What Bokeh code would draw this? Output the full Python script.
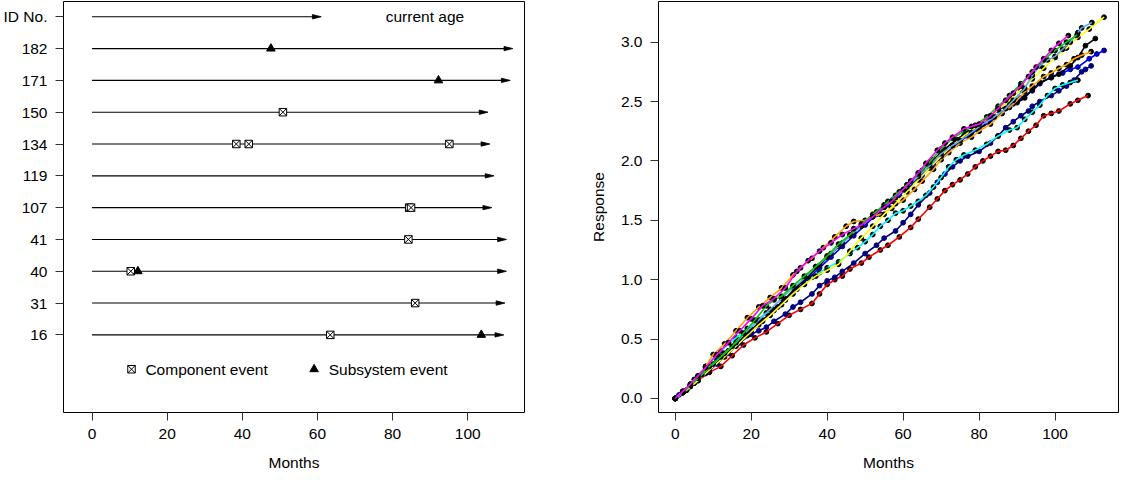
from bokeh.plotting import figure
from bokeh.layouts import row
from bokeh.models import FixedTicker, PrintfTickFormatter, Range1d
from bokeh.core.properties import value
from bokeh.embed import file_html
from bokeh.resources import INLINE

FONT = "Liberation Sans"
FS = "15.5px"

# ---------------- Left panel data ----------------
IDS = ["16", "31", "40", "41", "107", "119", "134", "150", "171", "182"]
CURRENT_AGE = [109.6, 109.9, 110.3, 110.3, 106.4, 107.0, 105.9, 105.4, 111.3, 112.0]
COMPONENT_EVENTS = [[63.4], [86.0], [10.3], [84.2], [84.4, 84.9], [], [38.4, 41.7, 95.1], [50.8], [], []]
SUBSYSTEM_EVENTS = [[103.6], [], [12.2], [], [], [], [], [], [92.2], [47.6]]
HEADER_LABEL = "ID No."
HEADER_ARROW_END = 61.0
HEADER_TEXT = "current age"
LEGEND_LABELS = ["Component event", "Subsystem event"]
X_TICKS = [0, 20, 40, 60, 80, 100]

# ---------------- Right panel data (month, response) ----------------
RED = [(0, 0.0), (2, 0.05), (4, 0.10), (6, 0.15), (9, 0.22), (12, 0.27), (15, 0.36), (18, 0.45),
       (21, 0.51), (24, 0.56), (27, 0.63), (30, 0.70), (33, 0.75), (36, 0.80), (38, 0.88), (40, 0.96),
       (42, 1.00), (44, 1.03), (46, 1.09), (49, 1.14), (51, 1.19), (54, 1.25), (56, 1.29), (59, 1.36),
       (62, 1.44), (64, 1.51), (67, 1.61), (69, 1.68), (71, 1.75), (73, 1.80), (75, 1.84), (77, 1.89),
       (79, 1.95), (81, 2.00), (83, 2.04), (85, 2.08), (87, 2.09), (89, 2.13), (91, 2.19), (93, 2.25),
       (95, 2.30), (97, 2.38), (99, 2.40), (101, 2.42), (104, 2.48), (106, 2.51), (108.7, 2.55)]
NAVY = [(0, 0.0), (1, 0.03), (2, 0.05), (3, 0.07), (5, 0.13), (8, 0.24), (11, 0.33), (14, 0.40),
        (17, 0.47), (20, 0.54), (22, 0.57), (24, 0.60), (26, 0.65), (29, 0.71), (31, 0.77), (33, 0.81),
        (36, 0.88), (38, 0.95), (40, 0.99), (42, 1.02), (44, 1.07), (47, 1.14), (50, 1.22), (53, 1.29),
        (55, 1.35), (58, 1.41), (60, 1.48), (62, 1.55), (64, 1.63), (67, 1.73), (69, 1.82), (71, 1.89),
        (73, 1.95), (75, 2.00), (77, 2.04), (80, 2.08), (83, 2.15), (85, 2.21), (87, 2.28), (89, 2.33),
        (91, 2.38), (93, 2.42), (94, 2.46), (96, 2.50), (99, 2.55), (101, 2.59), (103, 2.63), (105, 2.68),
        (107, 2.75), (108, 2.77), (109.5, 2.80)]
CYAN = [(0, 0.0), (2, 0.06), (5, 0.16), (8, 0.27), (12, 0.40), (16, 0.51), (19, 0.59), (21, 0.65),
        (24, 0.72), (27, 0.77), (29, 0.83), (32, 0.92), (34, 0.97), (36, 1.02), (38, 1.06), (40, 1.10),
        (43, 1.15), (46, 1.22), (48, 1.27), (50, 1.32), (52, 1.38), (54, 1.45), (56, 1.50), (58, 1.56),
        (60, 1.58), (62, 1.62), (64, 1.66), (66, 1.71), (68, 1.78), (70, 1.86), (72, 1.95), (74, 2.01),
        (76, 2.05), (79, 2.09), (82, 2.14), (85, 2.21), (88, 2.26), (90, 2.28), (92, 2.35), (94, 2.41),
        (96, 2.47), (98, 2.55), (100, 2.61), (102, 2.64), (104, 2.66), (106, 2.68)]
BLUE = [(0, 0.0), (2, 0.05), (5, 0.13), (8, 0.21), (11, 0.29), (14, 0.38), (17, 0.47), (20, 0.56),
        (23, 0.65), (26, 0.74), (29, 0.83), (32, 0.92), (35, 1.01), (38, 1.10), (41, 1.19), (44, 1.28),
        (47, 1.37), (50, 1.46), (53, 1.55), (56, 1.63), (59, 1.71), (62, 1.80), (65, 1.88), (68, 1.97),
        (71, 2.06), (74, 2.14), (77, 2.21), (80, 2.27), (83, 2.33), (86, 2.40), (89, 2.48), (91, 2.53),
        (94, 2.59), (96, 2.65), (99, 2.71), (102, 2.74), (104, 2.77), (106, 2.79), (109, 2.86), (111, 2.90),
        (112.9, 2.93)]
BLACK = [(0, 0.0), (2, 0.05), (5, 0.13), (8, 0.22), (11, 0.31), (14, 0.40), (17, 0.49), (20, 0.58),
         (23, 0.66), (26, 0.75), (29, 0.84), (32, 0.94), (35, 1.03), (38, 1.12), (41, 1.22), (44, 1.31),
         (47, 1.40), (50, 1.49), (53, 1.57), (56, 1.66), (59, 1.74), (62, 1.83), (65, 1.92), (68, 2.01),
         (71, 2.10), (74, 2.18), (77, 2.24), (80, 2.29), (83, 2.37), (85, 2.43), (88, 2.47), (90, 2.49),
         (92, 2.53), (94, 2.60), (96, 2.66), (99, 2.70), (101, 2.73), (104, 2.80), (106, 2.87), (108, 2.97),
         (110.6, 3.03)]
ORANGE = [(0, 0.0), (2, 0.06), (4, 0.12), (6, 0.19), (8, 0.27), (10, 0.37), (13, 0.46), (16, 0.57),
          (19, 0.68), (22, 0.77), (25, 0.85), (28, 0.93), (31, 1.04), (33, 1.10), (36, 1.18), (39, 1.27),
          (42, 1.36), (45, 1.45), (47, 1.49), (50, 1.50), (52, 1.53), (54, 1.55), (57, 1.60), (60, 1.67),
          (63, 1.76), (65, 1.83), (68, 1.93), (70, 2.01), (72, 2.07), (75, 2.15), (78, 2.20), (80, 2.25),
          (83, 2.31), (86, 2.40), (88, 2.45), (90, 2.51), (92, 2.58), (94, 2.63), (97, 2.71), (99, 2.74),
          (101, 2.78), (103, 2.81), (105, 2.86), (107, 2.89), (109.5, 2.92)]
YELLOW = [(0, 0.0), (3, 0.07), (6, 0.15), (9, 0.24), (13, 0.35), (16, 0.44), (19, 0.53), (22, 0.62),
          (25, 0.70), (28, 0.79), (31, 0.88), (34, 0.96), (37, 1.03), (40, 1.08), (43, 1.13), (46, 1.24),
          (49, 1.35), (52, 1.45), (55, 1.55), (58, 1.64), (61, 1.74), (64, 1.84), (67, 1.94), (70, 2.04),
          (73, 2.13), (76, 2.21), (79, 2.28), (82, 2.35), (85, 2.43), (88, 2.51), (91, 2.60), (94, 2.69),
          (97, 2.78), (100, 2.87), (103, 2.95), (106, 3.04), (109, 3.11), (112.9, 3.21)]
LIGHTBLUE = [(0, 0.0), (2, 0.05), (4, 0.11), (7, 0.20), (10, 0.29), (13, 0.38), (16, 0.47), (19, 0.57),
             (22, 0.66), (25, 0.75), (28, 0.84), (31, 0.93), (34, 1.01), (37, 1.11), (40, 1.19), (43, 1.28),
             (46, 1.37), (49, 1.45), (52, 1.53), (55, 1.61), (58, 1.69), (61, 1.78), (64, 1.87), (67, 1.96),
             (70, 2.06), (73, 2.13), (75, 2.17), (78, 2.24), (81, 2.31), (84, 2.37), (87, 2.44), (89, 2.51),
             (92, 2.61), (94, 2.72), (96, 2.80), (98, 2.85), (100, 2.88), (102, 2.94), (104, 3.00), (106, 3.08),
             (107, 3.12), (109.7, 3.165)]
GREEN = [(0, 0.0), (2, 0.05), (4, 0.11), (6, 0.17), (9, 0.27), (12, 0.35), (15, 0.44), (18, 0.55),
         (21, 0.66), (24, 0.78), (26, 0.83), (28, 0.86), (31, 0.95), (34, 1.03), (37, 1.11), (40, 1.20),
         (43, 1.30), (46, 1.38), (49, 1.47), (52, 1.55), (55, 1.63), (58, 1.71), (61, 1.80), (64, 1.89),
         (67, 1.99), (70, 2.10), (73, 2.19), (76, 2.25), (79, 2.30), (82, 2.37), (85, 2.46), (88, 2.55),
         (91, 2.65), (94, 2.75), (97, 2.85), (100, 2.93), (103, 3.00), (105.8, 3.06)]
MAGENTA = [(0, 0.0), (2, 0.06), (4, 0.12), (6, 0.19), (8, 0.26), (11, 0.37), (14, 0.47), (17, 0.57),
           (20, 0.67), (23, 0.78), (26, 0.84), (29, 0.93), (32, 1.07), (35, 1.16), (38, 1.24), (41, 1.31),
           (44, 1.38), (47, 1.43), (49, 1.46), (52, 1.53), (55, 1.61), (57, 1.66), (60, 1.76), (62, 1.83),
           (64, 1.90), (66, 1.98), (69, 2.09), (71, 2.15), (73, 2.20), (76, 2.27), (78, 2.29), (80, 2.31),
           (83, 2.38), (85, 2.44), (87, 2.51), (89, 2.57), (91, 2.63), (93, 2.71), (95, 2.79), (97, 2.86),
           (99, 2.93), (101, 2.99), (103.5, 3.055)]

SERIES = [
    ("#FF0000", "black", RED),
    ("#000080", "#000080", NAVY),
    ("#00FFFF", "black", CYAN),
    ("#0000FF", "#00008B", BLUE),
    ("#000000", "black", BLACK),
    ("#FFA500", "black", ORANGE),
    ("#FFFF00", "black", YELLOW),
    ("#5CACEE", "black", LIGHTBLUE),
    ("#00CD00", "black", GREEN),
    ("#FF00FF", "black", MAGENTA),
]
Y_TICKS_R = [0.0, 0.5, 1.0, 1.5, 2.0, 2.5, 3.0]


def style_axes(p):
    for ax in (p.xaxis[0], p.yaxis[0]):
        ax.axis_line_color = None
        ax.major_tick_line_color = "#333333"
        ax.major_tick_in = 0
        ax.major_tick_out = 8
        ax.minor_tick_line_color = None
        ax.major_label_text_font = FONT
        ax.major_label_text_font_size = FS
        ax.major_label_text_color = "black"
        ax.major_label_standoff = 8
        ax.axis_label_text_font = FONT
        ax.axis_label_text_font_size = FS
        ax.axis_label_text_font_style = "normal"
        ax.axis_label_text_color = "black"
    p.xgrid.grid_line_color = None
    p.ygrid.grid_line_color = None
    p.outline_line_color = "black"
    p.outline_line_width = 1
    p.outline_line_alpha = 1
    p.background_fill_color = "white"
    p.border_fill_color = "white"


# ---------------- Left panel ----------------
XL = (-7.6, 115.1)
YL = (-1.44, 11.48)
W_FRAME_L = 469
H_FRAME = 411

p1 = figure(width=560, height=476, output_backend="svg", toolbar_location=None,
            x_range=Range1d(*XL), y_range=Range1d(*YL),
            min_border_left=55, min_border_right=36, min_border_top=1, min_border_bottom=64,
            x_axis_label="Months")
style_axes(p1)
n = len(IDS)
rows_y = list(range(1, n + 1))
header_y = n + 1
legend_y = -0.08
p1.xaxis[0].ticker = FixedTicker(ticks=X_TICKS)
p1.yaxis[0].ticker = FixedTicker(ticks=rows_y + [header_y])
overrides = {y: lab for y, lab in zip(rows_y, IDS)}
overrides[header_y] = HEADER_LABEL
p1.yaxis[0].major_label_overrides = overrides
p1.xaxis[0].axis_label_standoff = 12

# arrow geometry in data units (derived from pixel sizes)
px_x = W_FRAME_L / (XL[1] - XL[0])
px_y = H_FRAME / (YL[1] - YL[0])
head_len = 9.0 / px_x
head_hw = 2.2 / px_y

arrow_ends = CURRENT_AGE + [HEADER_ARROW_END]
arrow_ys = rows_y + [header_y]
p1.segment(x0=[0] * len(arrow_ends), y0=arrow_ys, x1=[e - head_len * 0.6 for e in arrow_ends], y1=arrow_ys,
           line_color="black", line_width=1.1)
p1.patches(xs=[[e - head_len, e, e - head_len] for e in arrow_ends],
           ys=[[y + head_hw, y, y - head_hw] for y in arrow_ys],
           fill_color="black", line_color="black", line_width=0.8)

cx, cy, sx, sy = [], [], [], []
for y, comps, subs in zip(rows_y, COMPONENT_EVENTS, SUBSYSTEM_EVENTS):
    for c in comps:
        cx.append(c); cy.append(y)
    for s in subs:
        sx.append(s); sy.append(y)
p1.scatter(cx, cy, marker="square_x", size=7.5, fill_color="white", line_color="black", line_width=1)
p1.scatter(sx, sy, marker="triangle", size=8.5, fill_color="black", line_color="black")

p1.text(x=[88.6], y=[header_y], text=[HEADER_TEXT], text_font=value(FONT), text_font_size=value(FS),
        text_align="center", text_baseline="middle", text_color="black")

# legend
p1.scatter([10.5], [legend_y], marker="square_x", size=7.5, fill_color="white", line_color="black")
p1.scatter([59.1], [legend_y], marker="triangle", size=8.5, fill_color="black", line_color="black")
p1.text(x=[14.2, 63.0], y=[legend_y, legend_y], text=LEGEND_LABELS, text_font=value(FONT),
        text_font_size=value(FS), text_align="left", text_baseline="middle", text_color="black")

# ---------------- Right panel ----------------
p2 = figure(width=560, height=476, output_backend="svg", toolbar_location=None,
            x_range=Range1d(-4.4, 116.7), y_range=Range1d(-0.118, 3.342),
            min_border_left=98, min_border_right=2, min_border_top=1, min_border_bottom=64,
            x_axis_label="Months", y_axis_label="Response")
style_axes(p2)
p2.xaxis[0].ticker = FixedTicker(ticks=X_TICKS)
p2.yaxis[0].ticker = FixedTicker(ticks=Y_TICKS_R)
p2.yaxis[0].formatter = PrintfTickFormatter(format="%.1f")
p2.xaxis[0].axis_label_standoff = 12
p2.yaxis[0].axis_label_standoff = 11

for line_col, dot_col, pts in SERIES:
    m = [a for a, b in pts]
    v = [b for a, b in pts]
    p2.scatter(m, v, marker="circle", size=4.8, fill_color=dot_col, line_color=dot_col)
    p2.line(m, v, line_color=line_col, line_width=1.6)

layout = row(p1, p2)
open("out.html", "w").write(file_html(layout, INLINE))
